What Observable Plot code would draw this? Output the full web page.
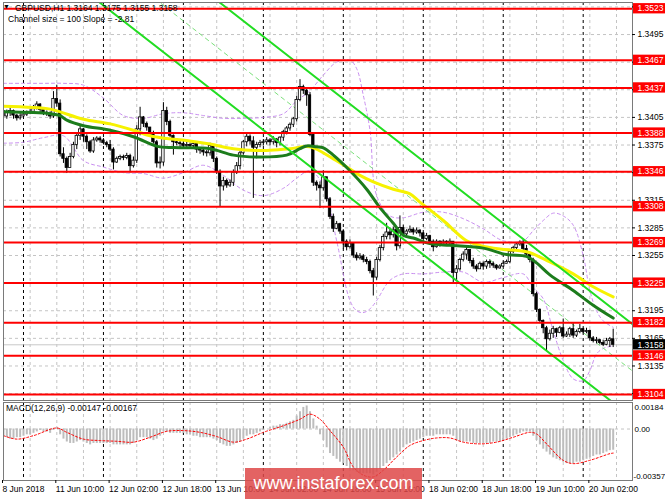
<!DOCTYPE html>
<html><head><meta charset="utf-8">
<script src="https://cdn.jsdelivr.net/npm/d3@7"></script>
<script src="https://cdn.jsdelivr.net/npm/@observablehq/plot@0.6"></script>
<style>
body{margin:0;background:#fff;}
#wrap{position:relative;width:665px;height:499px;overflow:hidden;font-family:"Liberation Sans",Arial,sans-serif;color:#000;}
.abs{position:absolute;white-space:nowrap;}
</style></head><body><div id="wrap"></div>
<script>
// ---------- data ----------
const firstOpen = 1.3412;
const closes = [1.3406,1.3410,1.3412,1.3407,1.3404,1.3406,1.3408,1.3410,1.3411,1.3415,1.3419,1.3413,1.3410,1.3409,1.3406,1.3425,1.3420,1.3365,1.3360,1.3350,
1.3362,1.3375,1.3385,1.3392,1.3384,1.3378,1.3368,1.3380,1.3382,1.3380,1.3377,1.3375,1.3370,1.3356,1.3360,1.3362,1.3361,1.3363,1.3352,1.3358,
1.3392,1.3405,1.3398,1.3394,1.3388,1.3378,1.3355,1.3356,1.3412,1.3400,1.3385,1.3378,1.3377,1.3376,1.3374,1.3375,1.3374,1.3376,1.3370,1.3369,
1.3367,1.3366,1.3374,1.3360,1.3346,1.3330,1.3336,1.3331,1.3334,1.3345,1.3352,1.3366,1.3378,1.3384,1.3379,1.3372,1.3375,1.3377,1.3378,1.3380,
1.3378,1.3381,1.3377,1.3383,1.3389,1.3393,1.3397,1.3403,1.3424,1.3438,1.3434,1.3429,1.3386,1.3334,1.3331,1.3328,1.3340,1.3316,1.3297,1.3284,
1.3289,1.3281,1.3270,1.3264,1.3268,1.3255,1.3252,1.3254,1.3250,1.3248,1.3238,1.3231,1.3250,1.3263,1.3275,1.3280,1.3277,1.3283,1.3265,1.3285,
1.3278,1.3281,1.3283,1.3280,1.3282,1.3279,1.3273,1.3276,1.3270,1.3264,1.3270,1.3267,1.3270,1.3268,1.3270,1.3236,1.3240,1.3250,1.3256,1.3261,
1.3249,1.3243,1.3240,1.3246,1.3243,1.3248,1.3246,1.3244,1.3241,1.3243,1.3246,1.3248,1.3259,1.3263,1.3267,1.3269,1.3262,1.3256,1.3250,1.3213,
1.3196,1.3184,1.3176,1.3164,1.3170,1.3175,1.3171,1.3176,1.3167,1.3169,1.3175,1.3168,1.3172,1.3175,1.3172,1.3173,1.3165,1.3162,1.3163,1.3160,
1.3158,1.3162,1.3164,1.3158];
const highs = [1.3414,1.3413,1.3415,1.3413,1.3408,1.3409,1.3411,1.3412,1.3414,1.3418,1.3422,1.3420,1.3414,1.3412,1.3411,1.3433,1.3440,1.3424,1.3372,1.3362,
1.3366,1.3378,1.3387,1.3397,1.3393,1.3386,1.3380,1.3383,1.3384,1.3384,1.3382,1.3379,1.3380,1.3372,1.3362,1.3364,1.3364,1.3366,1.3365,1.3362,
1.3396,1.3416,1.3406,1.3400,1.3394,1.3390,1.3380,1.3362,1.3421,1.3416,1.3402,1.3386,1.3382,1.3380,1.3378,1.3378,1.3377,1.3379,1.3377,1.3372,
1.3371,1.3369,1.3377,1.3368,1.3362,1.3348,1.3340,1.3338,1.3337,1.3348,1.3356,1.3368,1.3380,1.3388,1.3386,1.3384,1.3378,1.3380,1.3381,1.3383,
1.3382,1.3384,1.3382,1.3384,1.3391,1.3395,1.3399,1.3405,1.3428,1.3446,1.3440,1.3436,1.3432,1.3388,1.3336,1.3335,1.3347,1.3334,1.3318,1.3300,
1.3292,1.3290,1.3283,1.3272,1.3272,1.3268,1.3258,1.3257,1.3256,1.3253,1.3250,1.3241,1.3253,1.3266,1.3278,1.3290,1.3285,1.3286,1.3283,1.3298,
1.3288,1.3283,1.3287,1.3285,1.3285,1.3283,1.3280,1.3279,1.3277,1.3272,1.3272,1.3271,1.3272,1.3271,1.3273,1.3270,1.3244,1.3252,1.3259,1.3264,
1.3258,1.3252,1.3245,1.3248,1.3248,1.3250,1.3250,1.3248,1.3245,1.3245,1.3248,1.3250,1.3261,1.3265,1.3269,1.3271,1.3272,1.3266,1.3258,1.3252,
1.3215,1.3197,1.3185,1.3178,1.3174,1.3178,1.3176,1.3178,1.3186,1.3172,1.3177,1.3181,1.3174,1.3180,1.3176,1.3176,1.3174,1.3167,1.3166,1.3164,
1.3163,1.3165,1.3166,1.3175];
const lows = [1.3392,1.3403,1.3406,1.3403,1.3401,1.3402,1.3403,1.3406,1.3408,1.3409,1.3413,1.3410,1.3407,1.3406,1.3403,1.3404,1.3416,1.3362,1.3355,1.3344,
1.3352,1.3360,1.3370,1.3380,1.3378,1.3370,1.3366,1.3366,1.3378,1.3377,1.3375,1.3372,1.3368,1.3348,1.3355,1.3358,1.3358,1.3359,1.3345,1.3350,
1.3355,1.3385,1.3394,1.3390,1.3384,1.3376,1.3350,1.3349,1.3352,1.3396,1.3383,1.3364,1.3374,1.3372,1.3371,1.3372,1.3371,1.3372,1.3366,1.3365,
1.3363,1.3362,1.3363,1.3356,1.3343,1.3308,1.3325,1.3328,1.3329,1.3330,1.3343,1.3348,1.3364,1.3373,1.3375,1.3317,1.3360,1.3372,1.3374,1.3375,
1.3374,1.3375,1.3372,1.3374,1.3379,1.3386,1.3390,1.3394,1.3400,1.3422,1.3430,1.3417,1.3384,1.3330,1.3325,1.3306,1.3325,1.3313,1.3294,1.3280,
1.3283,1.3278,1.3262,1.3260,1.3262,1.3252,1.3249,1.3250,1.3247,1.3245,1.3235,1.3211,1.3228,1.3248,1.3260,1.3272,1.3272,1.3274,1.3260,1.3262,
1.3275,1.3274,1.3279,1.3277,1.3278,1.3275,1.3268,1.3271,1.3266,1.3259,1.3263,1.3264,1.3265,1.3266,1.3265,1.3225,1.3227,1.3238,1.3248,1.3250,
1.3246,1.3240,1.3237,1.3240,1.3239,1.3240,1.3241,1.3241,1.3239,1.3240,1.3242,1.3246,1.3246,1.3257,1.3261,1.3265,1.3258,1.3253,1.3247,1.3210,
1.3193,1.3181,1.3170,1.3151,1.3162,1.3165,1.3166,1.3170,1.3165,1.3166,1.3166,1.3165,1.3166,1.3170,1.3170,1.3170,1.3162,1.3160,1.3159,1.3158,
1.3156,1.3157,1.3155,1.3155];

const levels = [1.3523,1.3467,1.3437,1.3388,1.3346,1.3308,1.3269,1.3225,1.3182,1.3146,1.3104];
const currentPrice = 1.3158;
const priceTicks = [1.3105,1.3135,1.3165,1.3195,1.3225,1.3255,1.3285,1.3315,1.3345,1.3375,1.3405,1.3435,1.3465,1.3495,1.3525];
const timeTickBars = [0,16,32,48,64,80,96,112,128,144,160,176];
const timeTickLabels = ["8 Jun 2018","11 Jun 10:00","12 Jun 02:00","12 Jun 18:00","13 Jun 10:00","14 Jun 02:00","14 Jun 18:00","15 Jun 10:00","18 Jun 02:00","18 Jun 18:00","19 Jun 10:00","20 Jun 02:00"];
const daySeparatorBars = [6,30,54,78,102,126,150,174];
const gridBars = [0,8,16,24,32,40,48,56,64,72,80,88,96,104,112,120,128,136,144,152,160,168,176,184];

const yellowBars = [0,14,17,24,32,39,44,49,55,62,69,79,86,92,99,104,107,111,117,122,125,132,139,143,149,157,164,171,177,183];
const yellowMA = [1.3417,1.3414,1.3411,1.3403,1.3398,1.3391,1.3385,1.3382,1.3380,1.3376,1.3371,1.3369,1.3371,1.3373,1.3360,1.3349,1.3342,1.3335,1.3327,1.3322,1.3313,1.3293,1.3271,1.3266,1.3262,1.3259,1.3248,1.3235,1.3221,1.3210];
const greenBars = [0,14,17,19,24,32,39,45,47,53,62,69,76,85,89,91,94,96,99,104,109,113,117,120,123,128,134,144,151,157,160,164,171,177,183];
const greenMA = [1.3411,1.3409,1.3407,1.3402,1.3396,1.3391,1.3384,1.3375,1.3373,1.3372,1.3371,1.3364,1.3362,1.3364,1.3371,1.3374,1.3373,1.3372,1.3364,1.3347,1.3327,1.3307,1.3290,1.3277,1.3274,1.3268,1.3266,1.3263,1.3256,1.3254,1.3247,1.3234,1.3217,1.3201,1.3187];

const bandBars = [0,6,12,18,24,30,36,42,48,54,60,66,72,78,84,88,92,96,100,104,106,108,110,112,116,120,126,132,138,144,150,156,159,162,165,168,171,174,176,178,180,183];
const bandUpper = [1.3442,1.3442,1.3442,1.3442,1.3440,1.3426,1.3407,1.3404,1.3409,1.3410,1.3407,1.3404,1.3404,1.3405,1.3409,1.3423,1.3434,1.3451,1.3465,1.3467,1.3458,1.3429,1.3391,1.3320,1.3298,1.3296,1.3302,1.3302,1.3295,1.3284,1.3271,1.3271,1.3282,1.3293,1.3301,1.3298,1.3288,1.3255,1.3217,1.3195,1.3184,1.3177];
const bandLower = [1.3377,1.3378,1.3383,1.3385,1.3358,1.3351,1.3345,1.3344,1.3339,1.3345,1.3353,1.3342,1.3326,1.3320,1.3328,1.3339,1.3347,1.3331,1.3271,1.3206,1.3195,1.3193,1.3197,1.3206,1.3228,1.3235,1.3235,1.3237,1.3237,1.3226,1.3231,1.3235,1.3220,1.3208,1.3173,1.3141,1.3121,1.3119,1.3130,1.3148,1.3154,1.3157];

const channelBars = [0, 190];
const channelMid = [1.3662, 1.31262];
const channelHalfWidth = 0.00508;

const macdHist = [-0.0005,-0.0006,-0.0007,-0.0007,-0.0006,-0.0006,-0.0005,-0.0004,-0.0004,-0.0003,-0.0002,-0.0001,-0.0002,-0.0002,-0.0003,-0.0001,0.0001,-0.0004,-0.0007,-0.0009,
-0.0010,-0.0010,-0.0009,-0.0008,-0.0009,-0.0010,-0.0011,-0.0010,-0.0010,-0.0010,-0.0010,-0.0010,-0.0010,-0.0011,-0.0011,-0.0011,-0.0011,-0.0011,-0.0011,-0.0010,
-0.0008,-0.0006,-0.0006,-0.0006,-0.0007,-0.0008,-0.0007,-0.0005,-0.0002,-0.0002,-0.0003,-0.0003,-0.0003,-0.0003,-0.0003,-0.0004,-0.0004,-0.0005,-0.0005,-0.0006,
-0.0006,-0.0006,-0.0006,-0.0007,-0.0008,-0.0010,-0.0011,-0.0012,-0.0012,-0.0011,-0.0010,-0.0009,-0.0007,-0.0005,-0.0004,-0.0004,-0.0003,-0.0002,-0.0001,0.0000,
0.0001,0.0002,0.0002,0.0003,0.0003,0.0004,0.0005,0.0006,0.0009,0.0012,0.0015,0.0016,0.0012,0.0007,0.0002,-0.0004,-0.0008,-0.0013,-0.0017,-0.0019,
-0.0021,-0.0023,-0.0024,-0.0026,-0.0028,-0.0029,-0.0030,-0.0031,-0.0031,-0.0031,-0.0031,-0.0032,-0.0030,-0.0028,-0.0026,-0.0024,-0.0022,-0.0020,-0.0018,-0.0016,
-0.0013,-0.0011,-0.0010,-0.0009,-0.0008,-0.0007,-0.0006,-0.0005,-0.0005,-0.0005,-0.0004,-0.0004,-0.0004,-0.0004,-0.0004,-0.0005,-0.0008,-0.0009,-0.0009,-0.0009,
-0.0009,-0.0010,-0.0010,-0.0010,-0.0010,-0.0010,-0.0010,-0.0009,-0.0009,-0.0009,-0.0008,-0.0007,-0.0006,-0.0005,-0.0004,-0.0003,-0.0002,-0.0002,-0.0002,-0.0005,
-0.0008,-0.0011,-0.0014,-0.0016,-0.0018,-0.0020,-0.0021,-0.0022,-0.0023,-0.0024,-0.0024,-0.0024,-0.0023,-0.0023,-0.0022,-0.0021,-0.0020,-0.0019,-0.0018,-0.0018,
-0.0017,-0.0016,-0.0015,-0.00147];
const signalBars = [0,4,9,16,19,24,29,34,39,44,49,54,59,64,69,73,78,84,89,92,95,98,102,105,108,111,114,118,122,126,130,134,138,143,148,153,158,160,163,168,171,176,182,183];
const signalVals = [-0.00046,-0.0007,-0.00046,0.00007,-0.00023,-0.0007,-0.0008,-0.00085,-0.00091,-0.00057,-0.00016,-0.00011,-0.00023,-0.00052,-0.00091,-0.0007,-0.00023,0.00023,0.00068,0.00103,0.00068,-0.00011,-0.00126,-0.00263,-0.0032,-0.00332,-0.00286,-0.00194,-0.00114,-0.0008,-0.00062,-0.00062,-0.00091,-0.00103,-0.00091,-0.00057,-0.00023,-0.00034,-0.00103,-0.00217,-0.0024,-0.00217,-0.00171,-0.00167];
const macdTicks = [0.00184, 0, -0.00357];
const macdTickLabels = ["0.00184", "0.00", "-0.00357"];

// ---------- build ----------
const candles = closes.map((c, i) => ({i, o: i === 0 ? firstOpen : closes[i - 1], c, h: highs[i], l: lows[i]}));
const yellow = yellowBars.map((b, k) => ({b, v: yellowMA[k]}));
const green = greenBars.map((b, k) => ({b, v: greenMA[k]}));
const upper = bandBars.map((b, k) => ({b, v: bandUpper[k]}));
const lower = bandBars.map((b, k) => ({b, v: bandLower[k]}));
const chan = off => channelBars.map((b, k) => ({b, v: channelMid[k] + off}));
const hist = macdHist.map((v, i) => ({i, v}));
const signal = signalBars.map((b, k) => ({b, v: signalVals[k]}));
const XMAX = 188.8, XOUT = 189.1, XOUT2 = 199;
// tick labels that sit behind a level box in the original are not printed
const boxed = levels.concat([currentPrice]);
const visibleTicks = priceTicks.filter(t => d3.min(boxed, l => Math.abs(l - t)) > 0.00062);

const font = {fontFamily: "'Liberation Sans', Arial, sans-serif", fontSize: "8.5px", background: "transparent", color: "#000", overflow: "visible"};
const grid = {stroke: "#c4c4c4", strokeDasharray: "3,3", strokeWidth: 1};

const wrap = document.getElementById("wrap");

const p1 = Plot.plot({
  width: 665, height: 401, marginTop: 2, marginBottom: 1, marginLeft: 3, marginRight: 33,
  style: font,
  x: {domain: [0, XMAX], axis: null},
  y: {domain: [1.30975, 1.35298], axis: null},
  marks: [
    Plot.ruleY(priceTicks, grid),
    Plot.ruleX(gridBars, grid),
    Plot.ruleX(daySeparatorBars, {stroke: "#000", strokeDasharray: "3,3", strokeWidth: 1}),
    Plot.ruleY([currentPrice], {stroke: "#c8c8c8", strokeWidth: 1}),
    Plot.line(upper, {x: "b", y: "v", stroke: "#c98ff0", strokeWidth: 1, strokeDasharray: "3,3", curve: "catmull-rom", clip: true}),
    Plot.line(lower, {x: "b", y: "v", stroke: "#c98ff0", strokeWidth: 1, strokeDasharray: "3,3", curve: "catmull-rom", clip: true}),
    Plot.line(chan(0), {x: "b", y: "v", stroke: "#7be07b", strokeWidth: 1, strokeDasharray: "4,4", clip: true}),
    Plot.ruleX(candles, {x: "i", y1: "l", y2: "h", stroke: "#000", strokeWidth: 1, clip: true}),
    Plot.rect(candles, {x1: d => d.i - 0.36, x2: d => d.i + 0.36, y1: d => Math.min(d.o, d.c), y2: d => Math.max(d.o, d.c),
      fill: d => d.c >= d.o ? "#fff" : "#000", stroke: "#000", strokeWidth: 0.8, clip: true}),
    Plot.line(yellow, {x: "b", y: "v", stroke: "#f6f200", strokeWidth: 3, curve: "catmull-rom", clip: true}),
    Plot.line(green, {x: "b", y: "v", stroke: "#1c7c1c", strokeWidth: 3, curve: "catmull-rom", clip: true}),
    Plot.line(chan(channelHalfWidth), {x: "b", y: "v", stroke: "#22dd22", strokeWidth: 2, clip: true}),
    Plot.line(chan(-channelHalfWidth), {x: "b", y: "v", stroke: "#22dd22", strokeWidth: 2, clip: true}),
    Plot.ruleY(levels, {stroke: "#ff0000", strokeWidth: 2}),
    Plot.frame({stroke: "#7a7a7a", strokeWidth: 1}),
    Plot.ruleY(priceTicks, {x1: () => XMAX, x2: () => XMAX + 0.9, stroke: "#000"}),
    Plot.text(visibleTicks, {x: () => XOUT, y: d => d, text: d => d.toFixed(4), textAnchor: "start", dx: 4, fontSize: 8.5, fill: "#000"}),
    Plot.rect(levels, {x1: () => XOUT, x2: () => XOUT2, y1: d => d - 0.00056, y2: d => d + 0.00056, fill: "#ff0000"}),
    Plot.text(levels, {x: () => XOUT, y: d => d, text: d => d.toFixed(4), fill: "#fff", textAnchor: "start", dx: 4, fontSize: 8.5}),
    Plot.rect([currentPrice], {x1: () => XOUT, x2: () => XOUT2, y1: d => d - 0.00056, y2: d => d + 0.00056, fill: "#000"}),
    Plot.text([currentPrice], {x: () => XOUT, y: d => d, text: d => d.toFixed(4), fill: "#fff", textAnchor: "start", dx: 4, fontSize: 8.5})
  ]
});
p1.style.position = "absolute"; p1.style.left = "0px"; p1.style.top = "0px";
wrap.appendChild(p1);

const p2 = Plot.plot({
  width: 665, height: 98, marginTop: 1, marginBottom: 19, marginLeft: 3, marginRight: 33,
  style: font,
  x: {domain: [0, XMAX], axis: null},
  y: {domain: [-0.00357, 0.00184], axis: null},
  marks: [
    Plot.ruleX(gridBars, grid),
    Plot.ruleY([0], grid),
    Plot.ruleX(daySeparatorBars, {stroke: "#000", strokeDasharray: "3,3", strokeWidth: 1}),
    Plot.ruleX(hist, {x: "i", y1: 0, y2: "v", stroke: "#bdbdbd", strokeWidth: 2, clip: true}),
    Plot.line(signal, {x: "b", y: "v", stroke: "#ff0000", strokeWidth: 1, strokeDasharray: "2,2", curve: "catmull-rom", clip: true}),
    Plot.frame({stroke: "#7a7a7a", strokeWidth: 1}),
    Plot.text([macdTicks[0]], {x: () => XOUT, y: d => d, text: () => macdTickLabels[0], textAnchor: "start", dx: 1, dy: 5, fontSize: 8, fill: "#000"}),
    Plot.text([macdTicks[1]], {x: () => XOUT, y: d => d, text: () => macdTickLabels[1], textAnchor: "start", dx: 1, dy: 0, fontSize: 8, fill: "#000"}),
    Plot.text([macdTicks[2]], {x: () => XOUT, y: d => d, text: () => macdTickLabels[2], textAnchor: "start", dx: 0, dy: -4, fontSize: 8, fill: "#000"}),
    Plot.axisX(timeTickBars, {anchor: "bottom", tickSize: 3, tickPadding: 2, textAnchor: "start", dx: -1,
      tickFormat: d => timeTickLabels[timeTickBars.indexOf(d)], fontSize: 8.5, label: null, stroke: "#000"})
  ]
});
p2.style.position = "absolute"; p2.style.left = "0px"; p2.style.top = "401px";
wrap.appendChild(p2);

// header / labels
function addDiv(txt, css) { const d = document.createElement("div"); d.className = "abs"; d.style.cssText = css; d.textContent = txt; wrap.appendChild(d); return d; }
addDiv("▼", "left:3px;top:3px;font-size:7px;");
addDiv("GBPUSD,H1  1.3164 1.3175 1.3155 1.3158", "left:15px;top:3px;font-size:8.5px;");
addDiv("Channel size = 100 Slope = -2.81", "left:8px;top:14px;font-size:8.5px;");
addDiv("MACD(12,26,9) -0.00147 -0.00167", "left:6px;top:403px;font-size:8.5px;");
addDiv("www.instaforex.com", "left:245px;top:468px;width:177px;height:31px;background:rgba(222,72,72,0.85);color:#fff;font-size:18px;line-height:31px;text-align:center;");
</script></body></html>
